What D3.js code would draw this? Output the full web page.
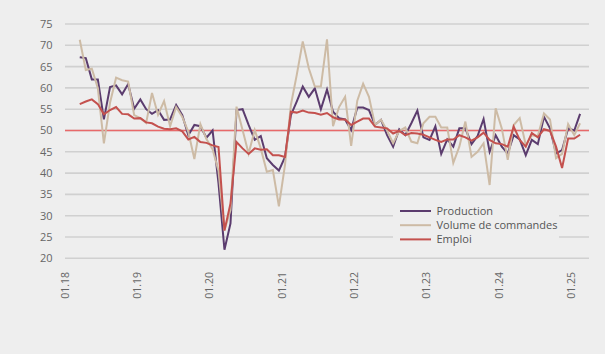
<!DOCTYPE html>
<html><head><meta charset="utf-8">
<script src="https://cdn.jsdelivr.net/npm/d3@7"></script>
<style>
html,body{margin:0;padding:0;background:#eeeeee;}
svg{display:block;font-family:"Open Sans","Noto Sans",sans-serif;}
</style>
</head><body>
<svg id="chart" width="605" height="354"></svg>
<script>
// ---- data ----
const firstMonth = "2018-03";   // first observation (monthly series)
const production = [
  67.2, 67.0, 62.0, 62.0, 52.6, 60.2, 60.6, 58.5, 60.9, 55.1,
  57.3, 55.0, 53.9, 54.8, 52.5, 52.6, 56.0, 53.6, 48.9, 51.3,
  51.0, 48.3, 50.0, 37.6, 22.0, 28.2, 54.8, 55.0, 51.3, 47.8,
  48.7, 43.5, 41.9, 40.6, 43.8, 53.6, 56.8, 60.3, 57.9, 59.9,
  55.0, 59.6, 54.4, 52.9, 52.6, 50.1, 55.4, 55.4, 54.8, 51.3,
  52.5, 48.9, 46.2, 50.3, 48.9, 51.7, 54.7, 48.4, 47.8, 51.0,
  44.5, 47.9, 46.2, 50.5, 50.5, 46.8, 48.7, 52.7, 45.0, 48.9,
  46.2, 44.6, 48.9, 47.9, 44.2, 47.8, 46.8, 53.2, 50.5, 44.6,
  45.4, 50.5, 50.0, 53.9
];
const commandes = [
  71.3, 64.2, 64.5, 59.9, 47.0, 56.5, 62.4, 61.8, 61.5, 53.6,
  52.9, 51.8, 58.8, 53.7, 56.9, 51.0, 55.5, 53.2, 49.7, 43.3,
  51.5, 48.0, 45.6, 40.5, 26.6, 31.3, 55.6, 50.1, 44.6, 50.1,
  45.8, 40.3, 40.7, 32.2, 42.0, 56.0, 63.0, 70.9, 64.6, 60.3,
  60.3, 71.4, 51.0, 55.5, 57.9, 46.4, 57.0, 61.0, 57.9, 51.3,
  52.5, 50.0, 47.0, 49.9, 50.7, 47.4, 47.0, 51.7, 53.2, 53.2,
  50.7, 50.7, 42.4, 46.2, 52.1, 43.8, 45.0, 47.0, 37.2, 55.2,
  50.5, 43.1, 51.3, 52.9, 46.6, 48.9, 48.7, 54.0, 52.6, 43.5,
  44.5, 51.5, 48.9, 51.7
];
const emploi = [
  56.2, 56.8, 57.3, 56.2, 53.8, 54.8, 55.5, 53.9, 53.8, 52.8,
  52.9, 51.9, 51.7, 50.9, 50.4, 50.3, 50.5, 49.8, 47.9, 48.5,
  47.3, 47.1, 46.5, 46.1, 26.5, 32.9, 47.3, 45.8, 44.5, 45.8,
  45.5, 45.6, 44.2, 44.2, 43.8, 54.4, 54.2, 54.7, 54.2, 54.1,
  53.7, 54.1, 53.1, 52.6, 52.6, 51.3, 52.1, 52.8, 52.8, 50.9,
  50.7, 50.5, 49.3, 49.9, 48.9, 49.4, 49.3, 49.0, 48.4, 47.8,
  47.3, 47.9, 47.9, 48.9, 48.4, 47.6, 48.4, 49.5, 47.8, 47.0,
  46.8, 46.2, 50.9, 47.8, 46.2, 49.4, 48.4, 50.3, 49.9, 46.2,
  41.2, 48.1, 48.1, 49.0
];
const seriesNames = ["Production", "Volume de commandes", "Emploi"];
const seriesColors = ["#5b3c6e", "#cdbba5", "#c4514e"];
const yTicks = [20, 25, 30, 35, 40, 45, 50, 55, 60, 65, 70, 75];
const xTickLabels = ["01.18", "01.19", "01.20", "01.21", "01.22", "01.23", "01.24", "01.25"];
const threshold = 50;

// ---- layout ----
const svg = d3.select("#chart");
const W = 605, H = 354;
const plot = {left: 65, right: 589, top: 24, bottom: 258.3};
svg.append("rect").attr("width", W).attr("height", H).attr("fill", "#eeeeee");

const parseM = d3.timeParse("%Y-%m");
const t0 = parseM(firstMonth);
const months = production.map((_, i) => d3.timeMonth.offset(t0, i));

const x = d3.scaleTime()
  .domain([new Date(2018, 0, 1), new Date(2025, 3, 1)])
  .range([plot.left, plot.right]);
const y = d3.scaleLinear().domain([20, 75]).range([plot.bottom, plot.top]);
const xc = d => (x(d) + x(d3.timeMonth.offset(d, 1))) / 2;

// grid + y labels
const gy = svg.append("g");
gy.selectAll("line").data(yTicks).join("line")
  .attr("x1", plot.left).attr("x2", plot.right)
  .attr("y1", d => y(d)).attr("y2", d => y(d))
  .attr("stroke", "#d0d0d0").attr("stroke-width", 1.6);
gy.selectAll("text").data(yTicks).join("text")
  .attr("x", 52.5).attr("y", d => y(d)).attr("dy", "0.36em")
  .attr("text-anchor", "end").attr("font-size", 11).attr("fill", "#666")
  .text(d => d);

// x labels
const xLabelDates = xTickLabels.map(s => {
  const [m, yy] = s.split(".");
  return new Date(2000 + +yy, +m - 1, 1);
});
svg.append("g").selectAll("text").data(xTickLabels).join("text")
  .attr("transform", (d, i) => `translate(${x(xLabelDates[i])},272) rotate(-90)`)
  .attr("dy", "0.36em").attr("text-anchor", "end")
  .attr("font-size", 10.5).attr("fill", "#666")
  .text(d => d);

// threshold line
svg.append("line")
  .attr("x1", plot.left).attr("x2", plot.right)
  .attr("y1", y(threshold)).attr("y2", y(threshold))
  .attr("stroke", "#e8696a").attr("stroke-width", 1.6);

// series
const allSeries = [production, commandes, emploi];
const line = d3.line().x((d, i) => xc(months[i])).y(d => y(d));
svg.append("g").selectAll("path").data(allSeries).join("path")
  .attr("d", line)
  .attr("fill", "none")
  .attr("stroke", (d, i) => seriesColors[i])
  .attr("stroke-width", 2)
  .attr("stroke-linejoin", "miter");

// legend
const lg = svg.append("g");
lg.append("rect").attr("x", 393).attr("y", 201).attr("width", 166).attr("height", 48)
  .attr("fill", "#eeeeee");
const items = lg.selectAll("g").data(seriesNames).join("g")
  .attr("transform", (d, i) => `translate(400,${211 + i * 14.2})`);
items.append("line").attr("x1", 0).attr("x2", 31)
  .attr("stroke", (d, i) => seriesColors[i]).attr("stroke-width", 2);
items.append("text").attr("x", 36.5).attr("dy", "0.35em")
  .attr("font-size", 11).attr("fill", "#555").text(d => d);
</script>
</body></html>
